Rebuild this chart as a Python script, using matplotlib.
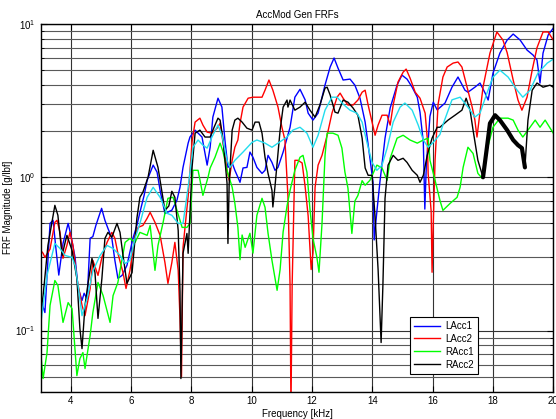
import matplotlib
matplotlib.use("Agg")
import matplotlib.pyplot as plt
import numpy as np
from matplotlib.ticker import LogLocator, NullLocator, NullFormatter, FixedLocator

plt.rcParams['font.family'] = ['Liberation Sans', 'DejaVu Sans']

# ---------------- data (frequency in kHz, magnitude in g/lbf) ----------------
f_lacc1 = [3.01, 3.14, 3.31, 3.41, 3.50, 3.60, 3.74, 3.91, 4.00, 4.14, 4.24, 4.37, 4.44, 4.54,
           4.64, 4.73, 4.83, 5.02, 5.13, 5.23, 5.36, 5.46, 5.56, 5.70, 5.86, 6.06, 6.19, 6.29,
           6.43, 6.53, 6.73, 6.86, 6.96, 7.12, 7.35, 7.52, 7.62, 7.72, 7.89, 7.95, 8.12, 8.35,
           8.45, 8.52, 8.62, 8.71, 8.88, 9.01, 9.11, 9.21, 9.35, 9.44, 9.54, 9.61, 9.71, 9.84,
           9.94, 10.04, 10.17, 10.34, 10.44, 10.54, 10.67, 10.77, 10.87, 11.04, 11.27, 11.43,
           11.60, 11.77, 11.87, 12.03, 12.20, 12.43, 12.60, 12.73, 12.86, 13.03, 13.26, 13.42,
           13.59, 13.76, 13.92, 14.02, 14.06, 14.15, 14.25, 14.42, 14.59, 14.82, 14.98, 15.15,
           15.32, 15.49, 15.58, 15.69, 15.74, 15.79, 15.91, 16.02, 16.15, 16.41, 16.64, 16.84,
           17.07, 17.17, 17.40, 17.57, 17.74, 17.84, 18.00, 18.23, 18.47, 18.67, 18.90, 19.13,
           19.33, 19.46, 19.56, 19.66, 19.83, 20.0]
m_lacc1 = [0.157, 0.131, 0.50, 0.524, 0.35, 0.23, 0.37, 0.50, 0.42, 0.30, 0.19, 0.157, 0.175, 0.16,
           0.40, 0.41, 0.485, 0.627, 0.524, 0.464, 0.40, 0.287, 0.219, 0.229, 0.266, 0.40, 0.485, 0.59,
           0.762, 0.955, 1.20, 1.08, 0.82, 0.58, 0.61, 0.71, 0.86, 1.16, 1.67, 1.83, 2.03, 1.83,
           1.43, 1.20, 1.57, 2.47, 3.28, 2.87, 1.75, 1.16, 1.24, 1.11, 1.00, 0.927, 1.15, 1.16,
           1.46, 1.35, 1.16, 1.06, 1.11, 1.39, 1.25, 1.11, 1.16, 1.46, 2.12, 3.33,
           3.75, 3.2, 2.62, 2.36, 2.62, 4.0, 5.24, 6.0, 5.16, 4.31, 4.37, 3.99,
           3.28, 2.29, 1.33, 0.93, 0.39, 0.6, 0.93, 1.80, 2.83, 4.0, 4.64, 4.37,
           3.87, 3.33, 2.66, 1.69, 0.62, 1.20, 2.5, 3.09, 2.75, 3.05, 3.87, 4.51,
           3.70, 3.59, 3.87, 4.12, 3.54, 3.19, 4.78, 6.46, 7.86, 8.60, 7.86, 6.76,
           6.27, 5.82, 4.12, 6.46, 8.47, 9.4]

f_lacc2 = [3.0, 3.08, 3.14, 3.31, 3.47, 3.54, 3.64, 3.74, 3.87, 3.97, 4.07, 4.20, 4.37, 4.47,
           4.64, 4.73, 4.90, 5.03, 5.20, 5.36, 5.46, 5.56, 5.73, 5.83, 5.96, 6.13, 6.23, 6.39,
           6.53, 6.63, 6.79, 6.96, 7.12, 7.22, 7.35, 7.45, 7.56, 7.62, 7.67, 7.72, 7.89, 8.02,
           8.12, 8.28, 8.38, 8.52, 8.68, 8.85, 8.95, 9.05, 9.18, 9.25, 9.35, 9.44, 9.54, 9.61,
           9.71, 9.88, 10.04, 10.34, 10.44, 10.57, 10.70, 10.87, 11.00, 11.10, 11.20, 11.27,
           11.30, 11.34, 11.43, 11.53, 11.67, 11.77, 11.87, 11.93, 11.97, 12.03, 12.10, 12.20,
           12.33, 12.50, 12.66, 12.83, 12.93, 13.03, 13.19, 13.36, 13.52, 13.66, 13.76, 13.86,
           13.99, 14.09, 14.19, 14.32, 14.49, 14.59, 14.69, 14.85, 15.02, 15.12, 15.25, 15.42,
           15.58, 15.75, 15.82, 15.85, 15.95, 15.98, 16.02, 16.08, 16.18, 16.34, 16.48, 16.68,
           16.84, 16.97, 17.14, 17.31, 17.40, 17.47, 17.53, 17.67, 17.90, 18.13, 18.33, 18.47,
           18.67, 18.83, 18.96, 19.13, 19.30, 19.46, 19.66, 19.83, 20.0]
m_lacc2 = [0.333, 0.319, 0.30, 0.34, 0.508, 0.524, 0.437, 0.296, 0.36, 0.437, 0.359, 0.219, 0.146, 0.125,
           0.188, 0.287, 0.229, 0.30, 0.376, 0.437, 0.40, 0.319, 0.239, 0.188, 0.247, 0.418, 0.471, 0.485,
           0.54, 0.59, 0.508, 0.418, 0.278, 0.203, 0.278, 0.376, 0.247, 0.12, 0.05, 0.349, 0.75, 1.7,
           2.29, 2.43, 2.19, 1.97, 1.94, 2.09, 2.25, 1.67, 1.11, 0.956, 1.29, 1.57, 1.75, 2.25,
           2.87, 3.28, 3.33, 3.33, 3.70, 4.31, 3.70, 2.87, 2.12, 1.75, 0.75, 0.2,
           0.03, 0.2, 1.29, 1.29, 1.24, 0.87, 0.56, 0.35, 0.25, 0.32, 0.86, 1.20,
           1.39, 1.88, 2.62, 3.33, 3.54, 3.28, 2.96, 2.96, 3.19, 3.59, 3.70, 2.96,
           2.29, 1.88, 2.19, 2.54, 2.54, 2.19, 2.96, 4.18, 4.85, 5.08, 4.44, 3.59,
           3.28, 2.62, 1.80, 1.06, 0.60, 0.24, 0.5, 1.3, 3.0, 4.51, 5.24, 5.56,
           5.65, 5.24, 3.87, 2.87, 2.36, 1.83, 2.3, 3.87, 6.46, 8.87, 7.86, 6.5,
           4.31, 3.19, 2.74, 3.33, 5.0, 7.0, 8.87, 8.87, 7.86]

f_racc1 = [3.0, 3.08, 3.21, 3.31, 3.47, 3.57, 3.74, 3.91, 4.04, 4.20, 4.30, 4.40, 4.47, 4.64,
           4.73, 4.90, 5.07, 5.30, 5.40, 5.56, 5.80, 5.96, 6.13, 6.29, 6.53, 6.63, 6.79, 6.89,
           7.06, 7.22, 7.39, 7.52, 7.69, 7.85, 7.95, 8.05, 8.22, 8.38, 8.55, 8.62, 8.78, 8.95,
           9.05, 9.18, 9.35, 9.44, 9.54, 9.61, 9.68, 9.78, 9.94, 10.04, 10.17, 10.34, 10.44,
           10.54, 10.67, 10.84, 10.94, 11.04, 11.17, 11.27, 11.43, 11.60, 11.70, 11.83, 11.93,
           12.03, 12.16, 12.23, 12.33, 12.43, 12.50, 12.69, 12.86, 12.99, 13.09, 13.19, 13.32,
           13.42, 13.52, 13.66, 13.76, 13.92, 14.15, 14.32, 14.49, 14.59, 14.82, 15.02, 15.25,
           15.49, 15.69, 15.85, 15.91, 16.08, 16.24, 16.34, 16.58, 16.81, 16.91, 17.01, 17.17,
           17.34, 17.50, 17.64, 17.80, 18.00, 18.23, 18.50, 18.67, 18.83, 18.99, 19.16, 19.40,
           19.56, 19.73, 19.89, 20.0]
m_racc1 = [0.072, 0.0486, 0.0718, 0.146, 0.212, 0.197, 0.113, 0.152, 0.139, 0.0508, 0.0656, 0.0718, 0.0565, 0.093,
           0.131, 0.206, 0.169, 0.113, 0.169, 0.206, 0.376, 0.399, 0.376, 0.437, 0.418, 0.485, 0.247, 0.359,
           0.508, 0.729, 0.74, 0.608, 0.471, 0.471, 0.5, 1.11, 1.11, 0.762, 1.0, 1.15, 1.35, 1.67,
           1.46, 1.11, 0.861, 0.676, 0.471, 0.29, 0.42, 0.349, 0.431, 0.32, 0.565, 0.729, 0.637,
           0.431, 0.287, 0.183, 0.25, 0.44, 0.65, 0.822, 1.11, 1.35, 1.39, 1.08, 0.62,
           0.40, 0.3, 0.24, 0.5, 1.39, 1.94, 1.94, 1.88, 1.55, 1.08, 0.85, 0.43,
           0.70, 0.76, 0.95, 0.887, 0.956, 1.20, 1.15, 0.956, 1.33, 1.80, 1.88, 1.75,
           1.67, 1.75, 1.80, 1.29, 0.956, 0.708, 0.608, 0.676, 0.74, 0.861, 1.16, 1.57,
           1.43, 1.06, 0.985, 1.50, 2.12, 2.43, 2.43, 2.36, 2.03, 1.83, 2.03, 2.36,
           2.12, 2.36, 2.1, 1.94]

f_racc2 = [3.0, 3.08, 3.24, 3.47, 3.57, 3.71, 3.81, 3.87, 4.04, 4.20, 4.30, 4.37, 4.47, 4.57,
           4.70, 4.80, 4.90, 5.03, 5.13, 5.23, 5.36, 5.53, 5.63, 5.73, 5.86, 6.03, 6.19, 6.29,
           6.39, 6.56, 6.73, 6.89, 7.12, 7.25, 7.35, 7.45, 7.56, 7.62, 7.65, 7.69, 7.72, 7.85,
           7.89, 8.02, 8.12, 8.28, 8.45, 8.62, 8.71, 8.88, 8.95, 9.05, 9.18, 9.21, 9.25, 9.35,
           9.44, 9.54, 9.68, 9.84, 10.01, 10.11, 10.24, 10.34, 10.44, 10.54, 10.67, 10.70, 10.77,
           10.84, 10.94, 11.04, 11.17, 11.20, 11.27, 11.43, 11.60, 11.77, 11.93, 12.10, 12.26,
           12.43, 12.50, 12.60, 12.76, 12.86, 13.03, 13.19, 13.36, 13.52, 13.66, 13.76, 13.86,
           13.99, 14.02, 14.09, 14.19, 14.29, 14.35, 14.42, 14.52, 14.69, 14.85, 15.02, 15.15,
           15.32, 15.49, 15.58, 15.69, 15.82, 15.98, 16.15, 16.24, 16.51, 16.74, 16.97, 17.11,
           17.24, 17.34, 17.50, 17.67, 17.80, 17.90, 18.07, 18.23, 18.47, 18.67, 18.83, 18.96,
           19.06, 19.16, 19.30, 19.46, 19.66, 19.89, 20.0]
m_racc2 = [0.13, 0.169, 0.359, 0.656, 0.565, 0.309, 0.376, 0.418, 0.333, 0.219, 0.103, 0.0762, 0.146, 0.203,
           0.296, 0.239, 0.12, 0.219, 0.399, 0.437, 0.406, 0.50, 0.437, 0.309, 0.203, 0.239, 0.54, 0.74,
           0.80, 1.0, 1.50, 1.16, 0.608, 0.65, 0.81, 0.74, 0.45, 0.18, 0.0486, 0.15, 0.319, 0.43,
           0.319, 1.16, 1.94, 2.03, 1.83, 1.83, 2.03, 2.43, 2.36, 1.75, 0.914, 0.37, 0.9, 2.03,
           2.36, 2.43, 2.29, 2.09, 2.03, 2.29, 2.29, 1.94, 1.35, 1.06, 0.822, 0.64, 0.87,
           1.24, 2.03, 2.87, 3.19, 2.87, 3.19, 2.74, 2.87, 3.09, 2.74, 2.47, 2.96,
           3.82, 3.87, 3.44, 2.66, 2.62, 3.19, 3.09, 2.83, 2.54, 1.80, 1.15, 1.03,
           1.03, 0.848, 0.55, 0.25, 0.0835, 0.2, 0.729, 1.2, 1.39, 1.29, 1.33, 1.25,
           1.11, 1.03, 0.927, 1.03, 1.39, 1.80, 2.12, 2.12, 2.36, 2.54, 2.74, 3.28,
           2.74, 2.03, 1.29, 1.0, 1.57, 2.25, 2.54, 2.36, 2.03, 1.75, 1.62, 1.55,
           1.16, 2.36, 3.70, 4.12, 3.87, 3.99, 3.87]

f_extra = [3.0, 3.21, 3.47, 3.64, 3.81, 4.04, 4.14, 4.24, 4.37, 4.54, 4.73, 4.97, 5.20, 5.40,
           5.63, 5.80, 5.96, 6.13, 6.29, 6.53, 6.73, 6.96, 7.19, 7.35, 7.56, 7.72, 7.89, 8.05,
           8.22, 8.38, 8.52, 8.68, 8.88, 9.01, 9.18, 9.28, 9.44, 9.71, 10.01, 10.17, 10.44,
           10.67, 10.87, 11.17, 11.36, 11.60, 11.83, 12.03, 12.20, 12.43, 12.66, 12.83, 13.03,
           13.26, 13.49, 13.66, 13.82, 13.99, 14.15, 14.32, 14.49, 14.69, 14.92, 15.08, 15.32,
           15.52, 15.69, 15.85, 16.02, 16.24, 16.34, 16.64, 16.91, 17.17, 17.40, 17.57, 17.80,
           18.00, 18.23, 18.50, 18.80, 18.99, 19.23, 19.49, 19.80, 20.0]
m_extra = [0.11, 0.229, 0.370, 0.343, 0.309, 0.300, 0.266, 0.197, 0.125, 0.162, 0.244, 0.309, 0.359, 0.343,
           0.309, 0.274, 0.287, 0.399, 0.50, 0.74, 0.86, 0.74, 0.582, 0.565, 0.50, 0.50, 0.86, 1.57,
           1.75, 1.62, 1.55, 1.83, 2.19, 1.88, 1.29, 1.16, 1.29, 1.46, 1.69, 1.75, 1.67,
           1.57, 1.67, 1.83, 2.03, 2.12, 1.94, 1.57, 1.88, 2.74, 3.33, 3.33, 3.0,
           2.74, 2.62, 2.29, 1.69, 1.25, 1.11, 1.20, 1.55, 2.29, 2.87, 3.05, 2.74,
           2.19, 1.75, 1.57, 1.69, 1.9, 2.2, 3.2, 3.33, 2.87, 2.47, 2.62, 3.54,
           4.5, 5.0, 4.51, 3.70, 3.33, 3.70, 4.78, 5.56, 5.9]

labels = ["LAcc1", "LAcc2", "RAcc1", "RAcc2"]
x_ticks = [4, 6, 8, 10, 12, 14, 16, 18, 20]

# ---------------- figure ----------------
fig = plt.figure(figsize=(5.56, 4.19), dpi=100)
ax = fig.add_axes([0.0732, 0.0656, 0.9219, 0.8771])

lw = 1.0
l1, = ax.plot(f_lacc1, m_lacc1, color='#0000FF', lw=lw, label=labels[0])
l2, = ax.plot(f_lacc2, m_lacc2, color='#FF0000', lw=lw, label=labels[1])
l3, = ax.plot(f_racc1, m_racc1, color='#00FF00', lw=lw, label=labels[2])
l4, = ax.plot(f_racc2, m_racc2, color='#000000', lw=lw, label=labels[3])
# noisy (thick-looking) part of RAcc2
fr = np.array(f_racc2); mr = np.array(m_racc2)
sel = (fr >= 17.67) & (fr <= 19.06)
ax.plot(fr[sel], mr[sel], color='#000000', lw=3.0, solid_capstyle='round')
ax.plot(f_extra, m_extra, color='#22DDEE', lw=lw)

ax.set_yscale('log')
ax.set_xlim(3, 20)
ax.set_ylim(0.04, 10)
ax.xaxis.set_major_locator(FixedLocator(x_ticks))
ax.xaxis.set_minor_locator(NullLocator())
ax.yaxis.set_major_locator(LogLocator(base=10, numticks=10))
ax.yaxis.set_minor_locator(LogLocator(base=10, subs=np.arange(2, 10), numticks=10))
ax.yaxis.set_minor_formatter(NullFormatter())

ax.grid(True, which='major', color='0.2', lw=0.8)
ax.grid(True, which='minor', axis='y', color='0.35', lw=0.8)
ax.set_axisbelow(True)

ax.tick_params(which='both', direction='in', top=True, right=True, labelsize=7, colors='black')
ax.tick_params(which='major', length=4, width=0.8)
ax.tick_params(which='minor', length=2, width=0.6)
for s in ax.spines.values():
    s.set_linewidth(1.0)
    s.set_color('black')

ax.set_title("AccMod Gen FRFs", fontsize=7, pad=4)
ax.set_xlabel("Frequency [kHz]", fontsize=7, labelpad=2)
ax.set_ylabel("FRF Magnitude [g/lbf]", fontsize=7, labelpad=2)

leg = ax.legend(handles=[l1, l2, l3, l4], loc='upper left', bbox_to_anchor=(0.7205, 0.2027),
                fontsize=7, frameon=True, fancybox=False, framealpha=1, edgecolor='black',
                handlelength=2.7, handletextpad=0.5, labelspacing=0.3, borderpad=0.4,
                borderaxespad=0)
leg.get_frame().set_linewidth(0.8)

fig.savefig("out.png", dpi=100)
